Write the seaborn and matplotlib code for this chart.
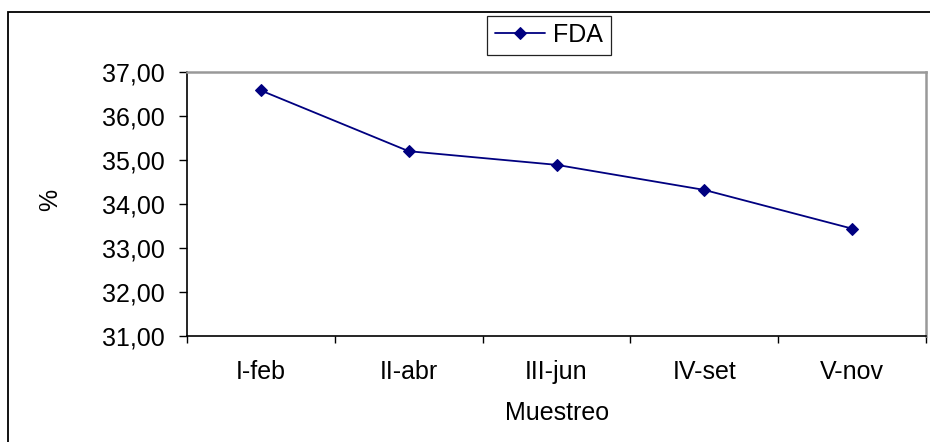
import pandas as pd
import matplotlib
import matplotlib.pyplot as plt
import seaborn as sns
from matplotlib.patches import Rectangle
from matplotlib.ticker import FixedLocator

sns.set_style('white')
matplotlib.rcParams['font.family'] = ['Liberation Sans', 'DejaVu Sans']
matplotlib.rcParams.update({'font.size': 18, 'text.color': 'black', 'axes.labelcolor': 'black',
                            'xtick.color': 'black', 'ytick.color': 'black'})

# data
muestreo = ['I-feb', 'II-abr', 'III-jun', 'IV-set', 'V-nov']
fda = [36.58, 35.20, 34.89, 34.32, 33.44]

df = pd.DataFrame({'pos': range(len(muestreo)), 'FDA': fda})

fig = plt.figure(figsize=(9.3, 4.42), dpi=100)
# plot area in pixels: x 187..926, y 72..336
ax = fig.add_axes([187 / 930, 1 - 336 / 442, 739 / 930, 264 / 442])

sns.lineplot(x='pos', y='FDA', data=df, ax=ax, color='#000080', marker='D',
             markersize=6.5, markeredgecolor='#000080', linewidth=1.3, label='FDA')

ax.set_ylim(31, 37)
ax.set_yticks(range(31, 38))
ax.set_yticklabels([f'{v},00' for v in range(31, 38)])

ax.set_xlim(-0.5, len(muestreo) - 0.5)
ax.xaxis.set_major_locator(FixedLocator([i - 0.5 for i in range(len(muestreo) + 1)]))
ax.set_xticklabels([])
ax.xaxis.set_minor_locator(FixedLocator(list(range(len(muestreo)))))
ax.set_xticklabels(muestreo, minor=True)
ax.tick_params(axis='x', which='minor', length=0, pad=17)
ax.tick_params(axis='x', which='major', direction='out', length=5, width=1, color='black', bottom=True)
ax.tick_params(axis='y', which='major', direction='out', length=6, width=1, color='black', left=True, pad=10)

ax.set_xlabel('Muestreo')
ax.xaxis.set_label_coords((557 - 187) / 739, (336 - 413) / 264)
ax.xaxis.label.set_va('center')
ax.set_ylabel('%')
ax.yaxis.set_label_coords((50 - 187) / 739, (336 - 200) / 264)
ax.yaxis.label.set_va('center')

for side in ['left', 'bottom']:
    ax.spines[side].set_color('black')
    ax.spines[side].set_linewidth(1.2)
for side in ['top', 'right']:
    ax.spines[side].set_color('#999999')
    ax.spines[side].set_linewidth(1.8)

leg = ax.legend(loc='center', bbox_to_anchor=(549 / 930, 1 - 35 / 442), bbox_transform=fig.transFigure,
                frameon=True, fancybox=False, framealpha=1, handlelength=2.0, borderpad=0.3,
                handletextpad=0.35, borderaxespad=0, fontsize=18)
leg.get_frame().set_edgecolor('#222222')
leg.get_frame().set_linewidth(0.9)

# outer chart border (right and bottom edges fall outside the picture)
fig.patches.append(Rectangle((8 / 930, -10 / 442), 940 / 930, 440 / 442, transform=fig.transFigure,
                             fill=False, edgecolor='black', linewidth=1.3))

plt.savefig('out.png', dpi=100)
